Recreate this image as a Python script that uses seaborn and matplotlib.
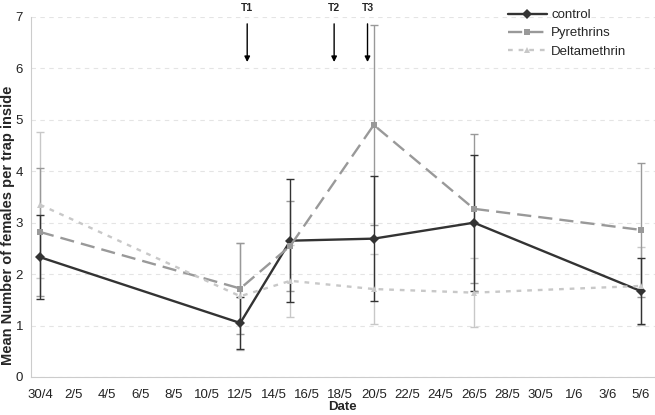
import seaborn as sns
import matplotlib.pyplot as plt
import numpy as np
import pandas as pd

# sampling dates and treatment dates
dates = ["2010-04-30", "2010-05-12", "2010-05-15", "2010-05-20", "2010-05-26", "2010-06-05"]
treat_labels = ["T1", "T2", "T3"]
treat_dates = ["2010-05-12 10:00", "2010-05-17 15:00", "2010-05-19 15:00"]

control = [2.33, 1.05, 2.65, 2.69, 3.00, 1.67]
control_err = [0.82, 0.51, 1.20, 1.22, 1.32, 0.64]
pyrethrins = [2.82, 1.72, 2.55, 4.90, 3.27, 2.86]
pyrethrins_err = [1.25, 0.89, 0.87, 1.95, 1.45, 1.30]
deltamethrin = [3.35, 1.57, 1.87, 1.71, 1.64, 1.77]
deltamethrin_err = [1.42, 1.04, 0.70, 0.68, 0.67, 0.75]

series = ["control", "Pyrethrins", "Deltamethrin"]
colors = {"control": "#333333", "Pyrethrins": "#999999", "Deltamethrin": "#c8c8c8"}

x = pd.to_datetime(dates)
df = pd.DataFrame({
    "Date": np.tile(x, 3),
    "value": control + pyrethrins + deltamethrin,
    "err": control_err + pyrethrins_err + deltamethrin_err,
    "group": np.repeat(series, len(dates)),
})

sns.set_style("white")
plt.rcParams['font.family'] = ['Liberation Sans', 'DejaVu Sans']

fig = plt.figure(figsize=(6.55, 4.15), dpi=100)
ax = fig.add_axes([0.047, 0.0916, 0.953, 0.8675])

# error bars first (drawn under the lines)
for g in series[::-1]:
    sub = df[df.group == g]
    ax.errorbar(sub["Date"], sub["value"], yerr=sub["err"], fmt="none",
                ecolor=colors[g], elinewidth=1.0, capsize=3, capthick=1.0, zorder=2)

sns.lineplot(data=df, x="Date", y="value", hue="group", style="group",
             palette=colors, markers={"control": "D", "Pyrethrins": "s", "Deltamethrin": "^"},
             dashes={"control": "", "Pyrethrins": (6, 3), "Deltamethrin": (2, 2.5)},
             markersize=5, markeredgewidth=0, linewidth=1.7, ax=ax, zorder=3)

start = x[0]
ax.set_xlim(start - pd.Timedelta(days=0.55), start + pd.Timedelta(days=36.85))
ax.set_ylim(0, 7)
ax.set_yticks(range(0, 8))
ax.set_yticklabels([str(i) for i in range(0, 8)], fontsize=9.5, color="#222222")

major = pd.date_range(start, x[-1], freq="2D")
ax.set_xticks(major)
ax.set_xticklabels([f"{d.day}/{d.month}" for d in major], fontsize=9.5, color="#222222")
ax.set_xticks(pd.date_range(start, x[-1], freq="1D"), minor=True)
ax.tick_params(axis="x", which="both", direction="inout", length=5, color="#bbbbbb", pad=6)
ax.tick_params(axis="y", direction="inout", length=5, color="#bbbbbb", pad=3)

ax.yaxis.grid(True, linestyle=(0, (4, 4)), color="#e4e4e4", linewidth=0.8)
ax.set_axisbelow(True)
for s in ["top", "right"]:
    ax.spines[s].set_visible(False)
for s in ["left", "bottom"]:
    ax.spines[s].set_color("#cccccc")

ax.set_xlabel("Date", fontsize=9.5, fontweight="bold", labelpad=0)
ax.set_ylabel("Mean Number of females per trap inside", fontsize=10.5, fontweight="bold")
ax.yaxis.set_label_coords(-0.025, 0.42)

for lab, d in zip(treat_labels, pd.to_datetime(treat_dates)):
    ax.annotate("", xy=(d, 6.07), xytext=(d, 6.92), annotation_clip=False,
                arrowprops=dict(arrowstyle="-|>", color="black", lw=1.0, mutation_scale=8))
    ax.text(d, 7.17, lab, ha="center", va="center", fontsize=7.5, fontweight="bold", clip_on=False)

leg = ax.legend(loc="upper left", bbox_to_anchor=(0.745, 1.055), frameon=False, fontsize=9.5,
                handlelength=3, handletextpad=0.3, labelspacing=0.45, title=None)

fig.savefig("out.png", dpi=100)
